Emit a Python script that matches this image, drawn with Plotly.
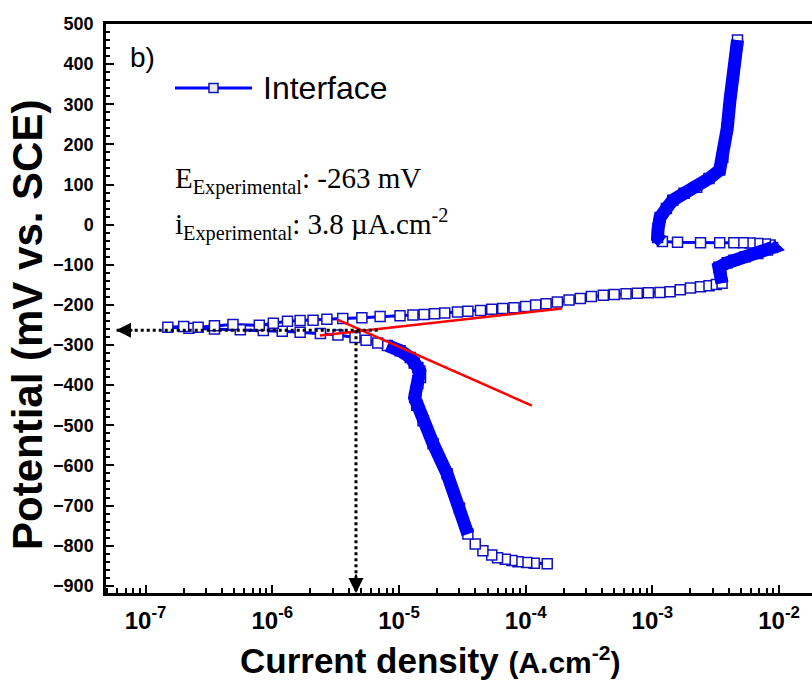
import math
import plotly.graph_objects as go

# ---------------- data ----------------
# potential in mV vs SCE, current density in A/cm2 ; scan order cathodic -> anodic
cath_start_E = [-845, -844, -842, -840, -837, -834, -830, -823, -813, -796, -771]
cath_start_i = [1.48e-4, 1.17e-4, 1.02e-4, 8.7e-5, 7.8e-5, 6.9e-5, 6.0e-5, 5.4e-5, 4.6e-5, 4.0e-5, 3.5e-5]

cath_dense_E = [-771, -706, -621, -546, -489, -450, -431, -415, -396, -381, -365, -356, -345, -331, -314, -301]
cath_dense_i = [3.5e-5, 3.0e-5, 2.4e-5, 1.86e-5, 1.55e-5, 1.38e-5, 1.33e-5, 1.36e-5, 1.41e-5, 1.48e-5,
                1.46e-5, 1.41e-5, 1.32e-5, 1.23e-5, 1.02e-5, 8.1e-6]

ecorr_E = [-295, -288, -281, -275, -271, -268, -266, -264, -262, -260, -258, -256, -254, -256, -252,
           -249, -251, -246, -241, -239, -238, -236, -234, -232, -229, -227, -225]
ecorr_i = [6.8e-6, 5.5e-6, 4.5e-6, 3.3e-6, 2.4e-6, 1.66e-6, 1.2e-6, 8.5e-7, 5.6e-7, 3.5e-7, 2.2e-7,
           1.5e-7, 2.0e-7, 2.6e-7, 3.5e-7, 4.9e-7, 7.9e-7, 1.02e-6, 1.32e-6, 1.66e-6, 2.1e-6, 2.7e-6,
           3.6e-6, 5.1e-6, 7.1e-6, 1.02e-5, 1.29e-5]

anod_E = [-224, -222, -220, -218, -216, -214, -211, -209, -207, -204, -200, -197, -193, -188, -184,
          -179, -176, -174, -172, -171, -170, -169, -167, -162, -158, -155, -152, -149]
anod_i = [1.58e-5, 1.91e-5, 2.3e-5, 2.9e-5, 3.5e-5, 4.4e-5, 5.4e-5, 6.6e-5, 8.1e-5, 1.0e-4, 1.2e-4,
          1.45e-4, 1.78e-4, 2.2e-4, 2.7e-4, 3.3e-4, 4.1e-4, 5.0e-4, 6.2e-4, 7.6e-4, 9.3e-4, 1.15e-3,
          1.38e-3, 1.66e-3, 2.0e-3, 2.4e-3, 2.8e-3, 3.2e-3]

pass1_E = [-146, -130, -115, -106, -95, -89, -80, -72, -63, -57, -51]
pass1_i = [3.55e-3, 3.47e-3, 3.4e-3, 3.35e-3, 3.9e-3, 4.4e-3, 5.4e-3, 6.8e-3, 8.1e-3, 8.9e-3, 8.5e-3]

back_E = [-48, -47, -46, -45, -45, -45, -45, -44, -42]
back_i = [7.8e-3, 6.8e-3, 5.9e-3, 5.2e-3, 4.4e-3, 3.4e-3, 2.4e-3, 1.58e-3, 1.2e-3]

pass2_E = [-42, -32, -10, 18, 40, 61, 78, 93, 115, 136, 168, 240, 310, 390, 460]
pass2_i = [1.2e-3, 1.1e-3, 1.11e-3, 1.15e-3, 1.29e-3, 1.45e-3, 1.78e-3, 2.24e-3, 2.8e-3, 3.4e-3,
           3.6e-3, 3.9e-3, 4.1e-3, 4.4e-3, 4.7e-3]

# Tafel extrapolation lines
tafel_anodic_i = [2.38e-6, 1.94e-4]
tafel_anodic_E = [-276, -209]
tafel_cathodic_i = [3.24e-6, 1.12e-4]
tafel_cathodic_E = [-236, -451]

# corrosion point (read from arrows)
E_corr = -263
i_arrow = 4.58e-6
i_arrow_left = 5.85e-8
i_hline_right = 6.8e-6

x_tick_vals = [1e-7, 1e-6, 1e-5, 1e-4, 1e-3, 1e-2]
x_tick_text = ["10<sup>-7</sup>", "10<sup>-6</sup>", "10<sup>-5</sup>", "10<sup>-4</sup>",
               "10<sup>-3</sup>", "10<sup>-2</sup>"]

# ---------------- figure ----------------
W, H = 812, 697
ML, MR, MT, MB = 106, 0, 24, 104
PW, PH = W - ML - MR, H - MT - MB
Y_MIN, Y_MAX = -918, 500
X_MIN, X_MAX = -7.312, -1.74

def px(X):
    return (X - ML) / PW

def py(Y):
    return (H - MB - Y) / PH

BLUE = "#0000FF"
MARK = "#1010c0"

all_E = cath_start_E + cath_dense_E[1:] + ecorr_E + anod_E + pass1_E + back_E + pass2_E[1:]
all_i = cath_start_i + cath_dense_i[1:] + ecorr_i + anod_i + pass1_i + back_i + pass2_i[1:]

fig = go.Figure()

fig.add_trace(go.Scatter(
    x=all_i, y=all_E, mode="lines+markers", name="Interface",
    line=dict(color=BLUE, width=3),
    marker=dict(symbol="square", size=10, color="white", line=dict(color=MARK, width=1.5)),
    showlegend=False,
))
# densely sampled parts appear as a solid band
for ei, ii in [(cath_dense_E, cath_dense_i), (pass1_E, pass1_i), (pass2_E, pass2_i)]:
    fig.add_trace(go.Scatter(x=ii, y=ei, mode="lines", line=dict(color=BLUE, width=13),
                             showlegend=False, hoverinfo="skip"))

fig.add_trace(go.Scatter(x=tafel_anodic_i, y=tafel_anodic_E, mode="lines",
                         line=dict(color="#ff0000", width=2.5), showlegend=False))
fig.add_trace(go.Scatter(x=tafel_cathodic_i, y=tafel_cathodic_E, mode="lines",
                         line=dict(color="#ff0000", width=2.5), showlegend=False))

# dotted guide lines
fig.add_trace(go.Scatter(x=[i_hline_right, i_arrow_left], y=[E_corr, E_corr], mode="lines",
                         line=dict(color="black", width=3, dash="dot"), showlegend=False))
fig.add_trace(go.Scatter(x=[i_arrow, i_arrow], y=[E_corr, Y_MIN], mode="lines",
                         line=dict(color="black", width=3, dash="dot"), showlegend=False))

annotations = [
    dict(x=math.log10(i_arrow_left), y=E_corr, xref="x", yref="y", ax=18, ay=0, text="",
         showarrow=True, arrowhead=2, arrowsize=1.5, arrowwidth=2, arrowcolor="black"),
    dict(x=math.log10(i_arrow), y=Y_MIN, xref="x", yref="y", ax=0, ay=-20, text="",
         showarrow=True, arrowhead=2, arrowsize=1.5, arrowwidth=2, arrowcolor="black"),
    dict(x=px(128), y=py(57), xref="paper", yref="paper", xanchor="left", yanchor="middle",
         text="b)", showarrow=False, font=dict(family="Arial", size=28, color="black")),
    dict(x=px(261), y=py(88), xref="paper", yref="paper", xanchor="left", yanchor="middle",
         text="Interface", showarrow=False, font=dict(family="Arial", size=32, color="black")),
    dict(x=px(173), y=py(180), xref="paper", yref="paper", xanchor="left", yanchor="middle",
         text="E<sub>Experimental</sub>: -263 mV", showarrow=False,
         font=dict(family="Liberation Serif, Times New Roman", size=29, color="black")),
    dict(x=px(173), y=py(224), xref="paper", yref="paper", xanchor="left", yanchor="middle",
         text="i<sub>Experimental</sub>: 3.8 \u00b5A.cm<sup>-2</sup>", showarrow=False,
         font=dict(family="Liberation Serif, Times New Roman", size=29, color="black")),
    dict(x=px(430), y=py(660), xref="paper", yref="paper", xanchor="center", yanchor="middle",
         text="Current density <span style='font-size:30px'>(A.cm<sup>-2</sup>)</span>",
         showarrow=False, font=dict(family="Arial", size=35, color="black", weight="bold")),
    dict(x=px(27), y=py(325), xref="paper", yref="paper", xanchor="center", yanchor="middle",
         textangle=-90, text="Potential (mV vs. SCE)", showarrow=False,
         font=dict(family="Arial", size=42, color="black", weight="bold")),
]

shapes = [
    dict(type="line", xref="paper", yref="paper", x0=px(175), x1=px(252), y0=py(88), y1=py(88),
         line=dict(color=BLUE, width=3)),
    dict(type="rect", xref="paper", yref="paper", x0=px(209), x1=px(218), y0=py(92.5), y1=py(83.5),
         fillcolor="#e8e8f8", line=dict(color=MARK, width=1.5)),
]

minor_x = [m * 10.0 ** e for e in range(-8, -1) for m in range(2, 10)]

fig.update_layout(
    width=W, height=H,
    margin=dict(l=ML, r=MR, t=MT, b=MB, pad=0),
    paper_bgcolor="white", plot_bgcolor="white",
    showlegend=False,
    annotations=annotations, shapes=shapes,
    xaxis=dict(
        type="log", range=[X_MIN, X_MAX], showgrid=False, zeroline=False,
        showline=True, linecolor="black", linewidth=2.5, mirror=True,
        ticks="inside", ticklen=8, tickwidth=2, tickcolor="black",
        tickmode="array", tickvals=x_tick_vals, ticktext=x_tick_text, ticklabelstandoff=4,
        tickfont=dict(family="Arial", size=24, color="black", weight="bold"),
        minor=dict(ticks="inside", ticklen=5, tickwidth=1.5, tickcolor="black", tickvals=minor_x),
    ),
    yaxis=dict(
        range=[Y_MIN, Y_MAX], showgrid=False, zeroline=False,
        showline=True, linecolor="black", linewidth=2.5,
        ticks="inside", ticklen=8, tickwidth=2, tickcolor="black",
        tick0=0, dtick=100, ticklabelstandoff=6,
        tickfont=dict(family="Arial", size=18, color="black", weight="bold"),
        minor=dict(ticks="inside", ticklen=4, tickwidth=1.5, tickcolor="black", dtick=20),
    ),
)

fig.write_html("out.html")
